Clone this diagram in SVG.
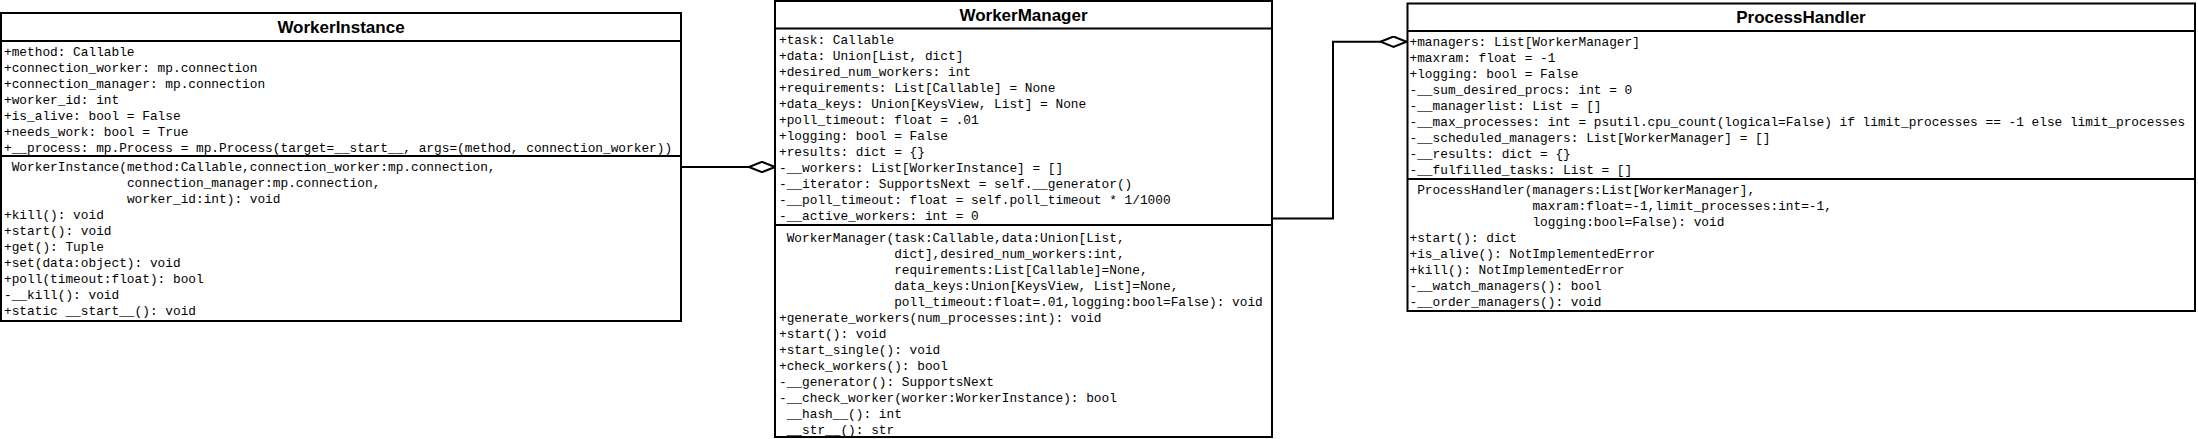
<svg xmlns="http://www.w3.org/2000/svg" width="2198" height="439" viewBox="0 0 2198 439">
<style>
.box{fill:#ffffff;stroke:#000000;stroke-width:2}
.sep{stroke:#000000;stroke-width:2}
.title{font-family:"Liberation Sans",Arial,sans-serif;font-weight:bold;font-size:17px;fill:#000000;text-anchor:middle}
.t{font-family:"Liberation Mono","Courier New",monospace;font-size:12.8px;fill:#000000}
.conn{fill:none;stroke:#000000;stroke-width:2}
</style>
<defs>
<marker id="diamond" viewBox="0 0 28 12" refX="28" refY="6" markerWidth="28" markerHeight="12" markerUnits="userSpaceOnUse" orient="auto">
<path d="M1,6 L14,0.8 L27,6 L14,11.2 Z" fill="#ffffff" stroke="#000000" stroke-width="2"/>
</marker>
</defs>
<rect x="0" y="0" width="2198" height="439" fill="#ffffff"/>

<g id="WorkerInstance">
<rect class="box" x="1" y="13" width="680" height="308"/>
<line class="sep" x1="1" y1="41" x2="681" y2="41"/>
<line class="sep" x1="1" y1="156" x2="681" y2="156"/>
<text class="title" x="341" y="33">WorkerInstance</text>
<text class="t" x="4" y="55.5">+method: Callable</text>
<text class="t" x="4" y="71.5">+connection_worker: mp.connection</text>
<text class="t" x="4" y="87.5">+connection_manager: mp.connection</text>
<text class="t" x="4" y="103.5">+worker_id: int</text>
<text class="t" x="4" y="119.5">+is_alive: bool = False</text>
<text class="t" x="4" y="135.5">+needs_work: bool = True</text>
<text class="t" x="4" y="151.5">+__process: mp.Process = mp.Process(target=__start__, args=(method, connection_worker))</text>
<text class="t" x="11.7" y="171">WorkerInstance(method:Callable,connection_worker:mp.connection,</text>
<text class="t" x="126.9" y="187">connection_manager:mp.connection,</text>
<text class="t" x="126.9" y="203">worker_id:int): void</text>
<text class="t" x="4" y="219">+kill(): void</text>
<text class="t" x="4" y="235">+start(): void</text>
<text class="t" x="4" y="251">+get(): Tuple</text>
<text class="t" x="4" y="267">+set(data:object): void</text>
<text class="t" x="4" y="283">+poll(timeout:float): bool</text>
<text class="t" x="4" y="299">-__kill(): void</text>
<text class="t" x="4" y="315">+static __start__(): void</text>
</g>

<g id="WorkerManager">
<rect class="box" x="775" y="1" width="497" height="436"/>
<line class="sep" x1="775" y1="28.5" x2="1272" y2="28.5"/>
<line class="sep" x1="775" y1="225" x2="1272" y2="225"/>
<text class="title" x="1023.5" y="21">WorkerManager</text>
<text class="t" x="779" y="44">+task: Callable</text>
<text class="t" x="779" y="60">+data: Union[List, dict]</text>
<text class="t" x="779" y="76">+desired_num_workers: int</text>
<text class="t" x="779" y="92">+requirements: List[Callable] = None</text>
<text class="t" x="779" y="108">+data_keys: Union[KeysView, List] = None</text>
<text class="t" x="779" y="124">+poll_timeout: float = .01</text>
<text class="t" x="779" y="140">+logging: bool = False</text>
<text class="t" x="779" y="156">+results: dict = {}</text>
<text class="t" x="779" y="172">-__workers: List[WorkerInstance] = []</text>
<text class="t" x="779" y="188">-__iterator: SupportsNext = self.__generator()</text>
<text class="t" x="779" y="204">-__poll_timeout: float = self.poll_timeout * 1/1000</text>
<text class="t" x="779" y="220">-__active_workers: int = 0</text>
<text class="t" x="786.7" y="241.5">WorkerManager(task:Callable,data:Union[List,</text>
<text class="t" x="894.2" y="257.5">dict],desired_num_workers:int,</text>
<text class="t" x="894.2" y="273.5">requirements:List[Callable]=None,</text>
<text class="t" x="894.2" y="289.5">data_keys:Union[KeysView, List]=None,</text>
<text class="t" x="894.2" y="305.5">poll_timeout:float=.01,logging:bool=False): void</text>
<text class="t" x="779" y="321.5">+generate_workers(num_processes:int): void</text>
<text class="t" x="779" y="337.5">+start(): void</text>
<text class="t" x="779" y="353.5">+start_single(): void</text>
<text class="t" x="779" y="369.5">+check_workers(): bool</text>
<text class="t" x="779" y="385.5">-__generator(): SupportsNext</text>
<text class="t" x="779" y="401.5">-__check_worker(worker:WorkerInstance): bool</text>
<text class="t" x="786.7" y="417.5">__hash__(): int</text>
<text class="t" x="786.7" y="433.5">__str__(): str</text>
</g>

<g id="ProcessHandler">
<rect class="box" x="1407.5" y="3.5" width="787.5" height="307.5"/>
<line class="sep" x1="1407.5" y1="31" x2="2195" y2="31"/>
<line class="sep" x1="1407.5" y1="179" x2="2195" y2="179"/>
<text class="title" x="1801" y="23">ProcessHandler</text>
<text class="t" x="1409.5" y="46">+managers: List[WorkerManager]</text>
<text class="t" x="1409.5" y="62">+maxram: float = -1</text>
<text class="t" x="1409.5" y="78">+logging: bool = False</text>
<text class="t" x="1409.5" y="94">-__sum_desired_procs: int = 0</text>
<text class="t" x="1409.5" y="110">-__managerlist: List = []</text>
<text class="t" x="1409.5" y="126">-__max_processes: int = psutil.cpu_count(logical=False) if limit_processes == -1 else limit_processes</text>
<text class="t" x="1409.5" y="142">-__scheduled_managers: List[WorkerManager] = []</text>
<text class="t" x="1409.5" y="158">-__results: dict = {}</text>
<text class="t" x="1409.5" y="174">-__fulfilled_tasks: List = []</text>
<text class="t" x="1417.2" y="194">ProcessHandler(managers:List[WorkerManager],</text>
<text class="t" x="1532.4" y="210">maxram:float=-1,limit_processes:int=-1,</text>
<text class="t" x="1532.4" y="226">logging:bool=False): void</text>
<text class="t" x="1409.5" y="242">+start(): dict</text>
<text class="t" x="1409.5" y="258">+is_alive(): NotImplementedError</text>
<text class="t" x="1409.5" y="274">+kill(): NotImplementedError</text>
<text class="t" x="1409.5" y="290">-__watch_managers(): bool</text>
<text class="t" x="1409.5" y="306">-__order_managers(): void</text>
</g>

<g id="connectors">
<path class="conn" d="M681,167 L776,167" marker-end="url(#diamond)"/>
<path class="conn" d="M1272,218.5 L1333,218.5 L1333,41.7 L1407.5,41.7" marker-end="url(#diamond)"/>
</g>
</svg>
